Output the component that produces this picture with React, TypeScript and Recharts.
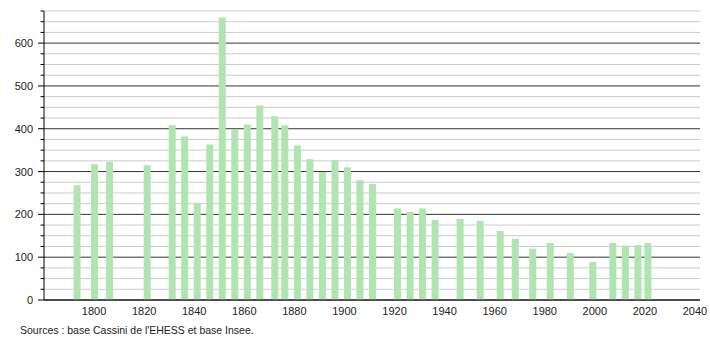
import React from 'react';
import { BarChart, Bar, XAxis, YAxis, CartesianGrid } from 'recharts';

const years = [1793, 1800, 1806, 1821, 1831, 1836, 1841, 1846, 1851, 1856, 1861, 1866, 1872, 1876, 1881, 1886, 1891, 1896, 1901, 1906, 1911, 1921, 1926, 1931, 1936, 1946, 1954, 1962, 1968, 1975, 1982, 1990, 1999, 2007, 2012, 2017, 2021];
const population = [268, 317, 323, 315, 408, 382, 227, 363, 660, 399, 410, 454, 429, 408, 361, 329, 299, 327, 310, 280, 271, 214, 206, 214, 187, 189, 185, 161, 143, 120, 133, 110, 89, 133, 127, 128, 133];
const xTicks = [1800, 1820, 1840, 1860, 1880, 1900, 1920, 1940, 1960, 1980, 2000, 2020, 2040];
const majorY = [0, 100, 200, 300, 400, 500, 600];
const minorY = [25, 50, 75, 125, 150, 175, 225, 250, 275, 325, 350, 375, 425, 450, 475, 525, 550, 575, 625, 650, 675];
const allY = [...majorY, ...minorY].sort((a, b) => a - b);
const source = "Sources : base Cassini de l'EHESS et base Insee.";

const data = years.map((y, i) => ({ year: y, pop: population[i] }));

const FONT = '"Liberation Sans", Arial, sans-serif';

const YTick = (props: any) => {
  const { x, y, payload } = props;
  const v = payload.value;
  const major = v % 100 === 0;
  return (
    <g>
      <line x1={x - (major ? 6 : 3.5)} x2={x} y1={y} y2={y} stroke="#000" strokeWidth={1} />
      {major && (
        <text x={x - 11} y={y} dy={4} textAnchor="end" fontSize={11} fontFamily={FONT} fill="#222">
          {v}
        </text>
      )}
    </g>
  );
};

export default function App() {
  return (
    <div style={{ position: 'absolute', left: 0, top: 0, width: 710, height: 340, background: '#fff' }}>
      <BarChart width={710} height={340} data={data} margin={{ top: 11, right: 10, bottom: 0, left: 0 }}>
        <CartesianGrid vertical={false} horizontalValues={minorY} stroke="#cccccc" strokeWidth={1} />
        <CartesianGrid vertical={false} horizontalValues={majorY} stroke="#333333" strokeWidth={1} />
        <XAxis
          dataKey="year"
          type="number"
          domain={[1780, 2042]}
          ticks={xTicks}
          tickLine={false}
          axisLine={{ stroke: '#000', strokeWidth: 1 }}
          tick={{ fontSize: 11, fontFamily: FONT, fill: '#222' }}
          tickMargin={1}
          height={40}
          allowDataOverflow
        />
        <YAxis
          type="number"
          domain={[0, 675]}
          ticks={allY}
          interval={0}
          width={44}
          tickSize={0}
          tickMargin={0}
          tickLine={false}
          axisLine={{ stroke: '#000', strokeWidth: 1 }}
          tick={<YTick />}
        />
        <Bar dataKey="pop" fill="#b0e4b0" barSize={7} isAnimationActive={false} />
      </BarChart>
      <div
        style={{
          position: 'absolute',
          left: 20,
          top: 324,
          fontSize: 10.5,
          fontFamily: FONT,
          color: '#222',
          whiteSpace: 'nowrap',
        }}
      >
        {source}
      </div>
    </div>
  );
}
